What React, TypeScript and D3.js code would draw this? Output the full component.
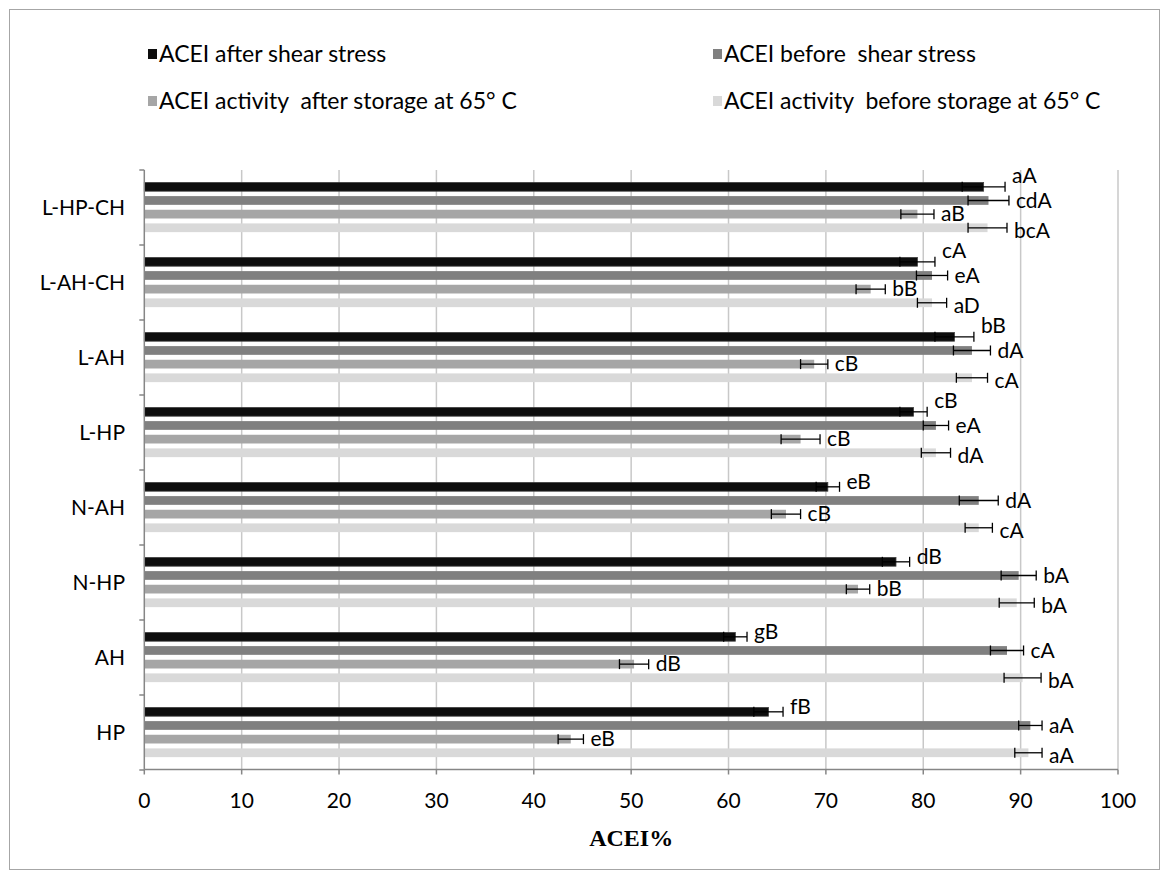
import React from "react";
import * as d3 from "d3";

// categories, top to bottom as drawn
const categories = ["L-HP-CH", "L-AH-CH", "L-AH", "L-HP", "N-AH", "N-HP", "AH", "HP"];

const seriesNames = [
  "ACEI after shear stress",
  "ACEI before  shear stress",
  "ACEI activity  after storage at 65° C",
  "ACEI activity  before storage at 65° C",
];

const afterShear = [86.2, 79.4, 83.2, 79.0, 70.2, 77.2, 60.7, 64.1];
const afterShearErr = [2.2, 1.8, 2.0, 1.4, 1.2, 1.4, 1.2, 1.5];
const afterShearLetters = ["aA", "cA", "bB", "cB", "eB", "dB", "gB", "fB"];

const beforeShear = [86.7, 80.9, 85.0, 81.3, 85.7, 89.8, 88.6, 91.0];
const beforeShearErr = [2.1, 1.6, 1.9, 1.3, 2.0, 1.8, 1.7, 1.2];
const beforeShearLetters = ["cdA", "eA", "dA", "eA", "dA", "bA", "cA", "aA"];

const afterStorage = [79.4, 74.6, 68.8, 67.4, 65.9, 73.3, 50.3, 43.8];
const afterStorageErr = [1.7, 1.5, 1.4, 2.0, 1.5, 1.2, 1.5, 1.3];
const afterStorageLetters = ["aB", "bB", "cB", "cB", "cB", "bB", "dB", "eB"];

const beforeStorage = [86.6, 80.9, 85.0, 81.3, 85.7, 89.6, 90.2, 90.8];
const beforeStorageErr = [2.0, 1.5, 1.6, 1.5, 1.4, 1.8, 1.9, 1.4];
const beforeStorageLetters = ["bcA", "aD", "cA", "dA", "cA", "bA", "bA", "aA"];

const xTicks = [0, 10, 20, 30, 40, 50, 60, 70, 80, 90, 100];

const colors = ["#0d0d0d", "#808080", "#a6a6a6", "#d9d9d9"];
const font = "Lato, 'Open Sans', sans-serif";

export default function App() {
  const width = 1166;
  const height = 880;

  const series = [
    { values: afterShear, err: afterShearErr, letters: afterShearLetters },
    { values: beforeShear, err: beforeShearErr, letters: beforeShearLetters },
    { values: afterStorage, err: afterStorageErr, letters: afterStorageLetters },
    { values: beforeStorage, err: beforeStorageErr, letters: beforeStorageLetters },
  ];

  const x = d3.scaleLinear().domain([0, 100]).range([144.3, 1118]);
  const y = d3.scaleBand().domain(categories).range([170, 770]).padding(0);
  const inner = d3
    .scaleBand<number>()
    .domain([0, 1, 2, 3])
    .range([10, y.bandwidth() - 10.4])
    .paddingInner(0.36)
    .paddingOuter(0.18);
  const bh = inner.bandwidth();
  const x0 = x(0);
  const axisY = 769.5;

  // legend layout
  const legendPos = [
    [148, 54],
    [713, 54],
    [148, 101],
    [713, 101],
  ];

  // black-row label goes higher when it would run into the row below
  const labelShift = (si: number, ci: number) => {
    if (si === 0) {
      const h0 = x(afterShear[ci] + afterShearErr[ci]);
      const h1 = x(beforeShear[ci] + beforeShearErr[ci]);
      return h1 - h0 < 40 ? -11 : -5;
    }
    return si === 3 ? 3 : 0;
  };

  return (
    <svg
      width={width}
      height={height}
      style={{ position: "absolute", left: 0, top: 0, background: "#fff" }}
      fontFamily={font}
    >
      <rect x={9.5} y={9.5} width={1150} height={860} fill="#fff" stroke="#a6a6a6" />

      {/* legend */}
      {seriesNames.map((name, i) => (
        <g key={name} transform={`translate(${legendPos[i][0]},${legendPos[i][1]})`}>
          <rect x={0} y={-5} width={9} height={10} fill={colors[i]} />
          <text x={11} y={0} dy="0.35em" fontSize={23} fill="#000" style={{ whiteSpace: "pre" }}>
            {name}
          </text>
        </g>
      ))}

      {/* gridlines */}
      {xTicks.slice(1).map((t) => (
        <line key={t} x1={x(t)} x2={x(t)} y1={170} y2={axisY} stroke="#c8c8c8" strokeWidth={1.5} />
      ))}

      {/* bars */}
      {categories.map((c, ci) => (
        <g key={c} transform={`translate(0,${y(c)})`}>
          {series.map((s, si) => (
            <rect
              key={si}
              x={x0}
              y={inner(si)}
              width={x(s.values[ci]) - x0}
              height={bh}
              fill={colors[si]}
              stroke={si === 0 ? "#404040" : "none"}
              strokeWidth={0.8}
            />
          ))}
          {series.map((s, si) => {
            const cy = (inner(si) as number) + bh / 2;
            const lo = x(s.values[ci] - s.err[ci]);
            const hi = x(s.values[ci] + s.err[ci]);
            return (
              <g key={"e" + si} stroke="#000" strokeWidth={1.3}>
                <line x1={lo} x2={hi} y1={cy} y2={cy} />
                <line x1={lo} x2={lo} y1={cy - 5} y2={cy + 5} />
                <line x1={hi} x2={hi} y1={cy - 5} y2={cy + 5} />
              </g>
            );
          })}
          {series.map((s, si) => {
            const cy = (inner(si) as number) + bh / 2;
            const hi = x(s.values[ci] + s.err[ci]);
            return (
              <text
                key={"l" + si}
                x={hi + 7}
                y={cy + labelShift(si, ci)}
                dy="0.35em"
                fontSize={21}
                fill="#000"
              >
                {s.letters[ci]}
              </text>
            );
          })}
        </g>
      ))}

      {/* y axis */}
      <line x1={x0} x2={x0} y1={170} y2={axisY} stroke="#868686" strokeWidth={1.5} />
      {d3.range(categories.length + 1).map((i) => {
        const yy = 170 + i * y.step();
        return <line key={i} x1={x0 - 5} x2={x0} y1={yy} y2={yy} stroke="#868686" strokeWidth={1.5} />;
      })}
      {categories.map((c) => (
        <text
          key={c}
          x={125}
          y={(y(c) as number) + y.bandwidth() / 2}
          dy="0.35em"
          textAnchor="end"
          fontSize={21}
          fill="#000"
        >
          {c}
        </text>
      ))}

      {/* x axis */}
      <line x1={x0} x2={x(100)} y1={axisY} y2={axisY} stroke="#868686" strokeWidth={1.5} />
      {xTicks.map((t) => (
        <g key={t}>
          <line x1={x(t)} x2={x(t)} y1={axisY} y2={axisY + 5} stroke="#868686" strokeWidth={1.5} />
          <text x={x(t)} y={801} dy="0.35em" textAnchor="middle" fontSize={21} fill="#000">
            {t}
          </text>
        </g>
      ))}
      <text
        x={(x(0) + x(100)) / 2}
        y={838}
        dy="0.35em"
        textAnchor="middle"
        fontSize={24}
        fontWeight="bold"
        fontFamily="'Liberation Serif', 'Times New Roman', serif"
      >
        ACEI%
      </text>
    </svg>
  );
}
